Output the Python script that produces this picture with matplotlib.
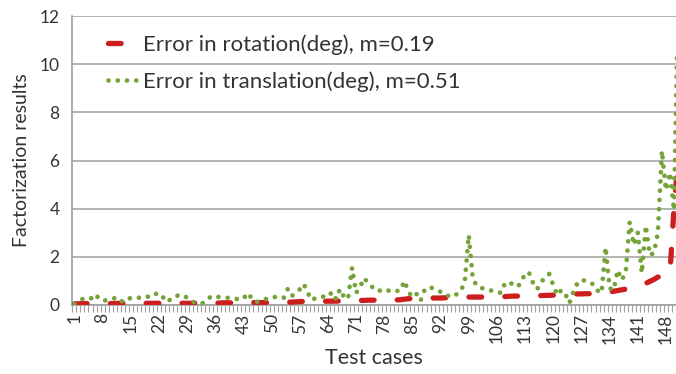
import matplotlib.pyplot as plt
import numpy as np

# per test case errors (case 1 .. 151)
rotation_err = [
    0.05, 0.05, 0.06, 0.06, 0.06, 0.06, 0.06, 0.06, 0.06, 0.06,
    0.06, 0.07, 0.07, 0.07, 0.07, 0.07, 0.07, 0.07, 0.07, 0.07,
    0.07, 0.07, 0.07, 0.07, 0.07, 0.07, 0.07, 0.07, 0.07, 0.07,
    0.08, 0.08, 0.08, 0.08, 0.08, 0.08, 0.08, 0.09, 0.09, 0.09,
    0.09, 0.09, 0.09, 0.10, 0.10, 0.10, 0.10, 0.10, 0.10, 0.10,
    0.10, 0.10, 0.11, 0.12, 0.12, 0.13, 0.14, 0.15, 0.15, 0.15,
    0.15, 0.15, 0.15, 0.16, 0.16, 0.16, 0.17, 0.17, 0.17, 0.18,
    0.18, 0.19, 0.19, 0.20, 0.20, 0.20, 0.20, 0.20, 0.20, 0.20,
    0.21, 0.22, 0.24, 0.26, 0.27, 0.27, 0.28, 0.28, 0.29, 0.29,
    0.29, 0.29, 0.30, 0.30, 0.31, 0.31, 0.32, 0.32, 0.33, 0.33,
    0.33, 0.33, 0.33, 0.34, 0.34, 0.34, 0.34, 0.35, 0.36, 0.37,
    0.37, 0.37, 0.38, 0.38, 0.38, 0.39, 0.39, 0.40, 0.40, 0.41,
    0.42, 0.43, 0.44, 0.45, 0.46, 0.46, 0.46, 0.47, 0.47, 0.48,
    0.49, 0.50, 0.52, 0.54, 0.57, 0.60, 0.63, 0.66, 0.70, 0.74,
    0.78, 0.83, 0.90, 0.98, 1.06, 1.16, 1.20, 1.25, 1.35, 4.00,
    6.00,
]

translation_err = [
    0.05, 0.15, 0.25, 0.22, 0.25, 0.45, 0.30, 0.17, 0.20, 0.25,
    0.28, 0.30, 0.12, 0.20, 0.30, 0.28, 0.30, 0.37, 0.35, 0.33,
    0.45, 0.50, 0.33, 0.12, 0.25, 0.37, 0.40, 0.42, 0.30, 0.20,
    0.08, 0.06, 0.08, 0.20, 0.37, 0.35, 0.33, 0.33, 0.30, 0.27,
    0.25, 0.25, 0.25, 0.50, 0.30, 0.12, 0.15, 0.20, 0.28, 0.33,
    0.33, 0.33, 0.29, 0.66, 0.37, 0.50, 0.65, 0.87, 0.50, 0.20,
    0.30, 0.33, 0.35, 0.33, 0.54, 0.25, 0.66, 0.33, 0.25, 1.55,
    0.50, 0.75, 1.12, 0.91, 0.75, 0.58, 0.60, 0.66, 0.60, 0.54,
    0.58, 0.60, 1.00, 0.55, 0.33, 0.46, 0.17, 0.62, 0.75, 0.70,
    0.62, 0.55, 0.41, 0.38, 0.33, 0.45, 0.58, 0.95, 2.90, 1.10,
    0.79, 0.72, 0.66, 0.60, 0.60, 0.55, 0.50, 0.91, 0.95, 0.85,
    0.75, 0.91, 1.33, 1.33, 0.91, 0.66, 0.95, 1.16, 1.29, 0.83,
    0.41, 0.62, 0.46, 0.08, 0.54, 0.91, 1.05, 1.00, 0.90, 0.87,
    0.60, 0.50, 2.40, 0.70, 0.62, 1.45, 1.04, 1.33, 3.45, 2.50,
    3.00, 1.33, 3.30, 2.07, 2.16, 3.00, 6.40, 4.77, 5.50, 3.94,
    12.50,
]

labels = ['Error in rotation(deg), m=0.19', 'Error in translation(deg), m=0.51']
cases = np.arange(1, len(rotation_err) + 1)
label_cases = np.arange(1, 149, 7)

plt.rcParams['font.family'] = ['Lato', 'DejaVu Sans']

fig = plt.figure(figsize=(6.76, 3.74), dpi=100)
ax = fig.add_axes([0.1065, 0.1845, 0.8935, 0.7725])

red = '#cc1e1e'
green = '#76a23a'
text_col = '#333333'

ax.plot(cases, rotation_err, color=red, lw=3.8, linestyle=(0, (2.4, 4.4)),
        dash_capstyle='round', label=labels[0], zorder=3)
ax.plot(cases, translation_err, color=green, lw=3.4, linestyle=(0, (0.01, 1.95)),
        dash_capstyle='round', label=labels[1], zorder=4)

ax.set_xlim(0.4, 150.3)
ax.set_ylim(0, 12)
ax.set_yticks(range(0, 13, 2))
ax.set_xticks(label_cases)
ax.set_xticklabels([str(c) for c in label_cases], rotation=90)
ax.set_xticks(np.arange(0.5, 151, 1), minor=True)
ax.tick_params(axis='x', which='major', length=0, pad=6, labelsize=12.5,
               labelcolor=text_col)
ax.tick_params(axis='x', which='minor', length=5, color='#a0a0a0', width=0.8)
ax.tick_params(axis='y', length=0, pad=9, labelsize=12.5, labelcolor=text_col)

ax.grid(axis='y', color='#b3b3b3', lw=1.4)
ax.set_axisbelow(True)
for side in ['top', 'right']:
    ax.spines[side].set_visible(False)
for side in ['left', 'bottom']:
    ax.spines[side].set_color('#a0a0a0')
    ax.spines[side].set_linewidth(1.2)

ax.set_xlabel('Test cases', fontsize=15.5, color=text_col, labelpad=3)
ax.set_ylabel('Factorization results', fontsize=14, color=text_col, labelpad=7)

ax.legend(loc='upper left', bbox_to_anchor=(0.026, 1.005), frameon=False,
          fontsize=16, handlelength=1.3, handletextpad=0.3, labelspacing=0.72,
          labelcolor=text_col)

fig.savefig('out.png', dpi=100)
